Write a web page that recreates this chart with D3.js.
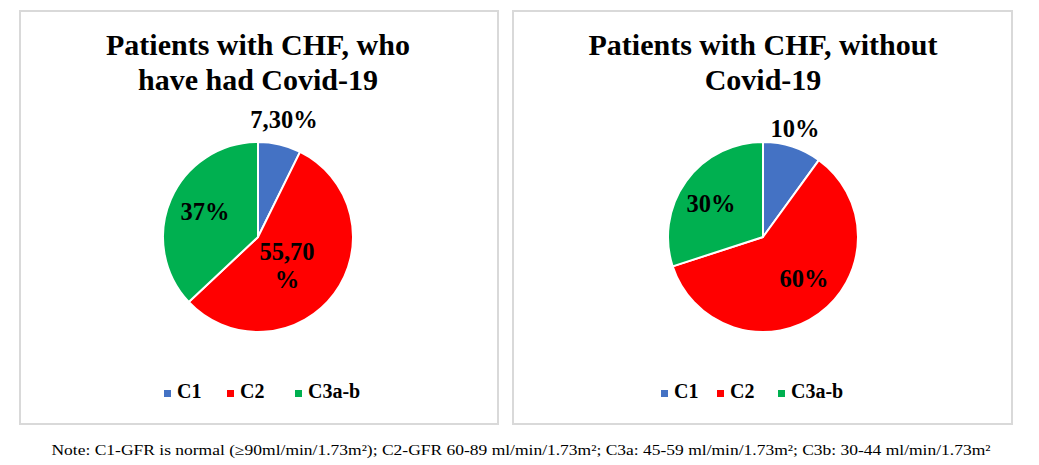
<!DOCTYPE html>
<html><head><meta charset="utf-8">
<script src="https://cdn.jsdelivr.net/npm/d3@7"></script>
<style>body{margin:0;background:#fff}svg{display:block}</style>
</head><body>
<svg id="c" width="1039" height="465"></svg>
<script>
const categories = ["C1","C2","C3a-b"];
const titles = [["Patients with CHF, who","have had Covid-19"],["Patients with CHF, without","Covid-19"]];
const valuesCovid = [7.3, 55.7, 37];
const valuesNoCovid = [10, 60, 30];
const labelsCovid = [["7,30%"],["55,70","%"],["37%"]];
const labelsNoCovid = [["10%"],["60%"],["30%"]];
const colors = ["#4472C4","#FF0000","#00B050"];
const note = "Note: C1-GFR is normal (≥90ml/min/1.73m²); C2-GFR 60-89 ml/min/1.73m²; C3a: 45-59 ml/min/1.73m²; C3b: 30-44 ml/min/1.73m²";

const svg = d3.select("#c");
const font = "'Liberation Serif','Times New Roman',serif";
const color = d3.scaleOrdinal().domain(categories).range(colors);

const panels = [
  {x0:20, x1:498, cx:258, values:valuesCovid, labels:labelsCovid, title:titles[0],
   labelPos:[[284,128],[287,260],[205,220]], legendX:[164,227,295]},
  {x0:513, x1:1012, cx:763, values:valuesNoCovid, labels:labelsNoCovid, title:titles[1],
   labelPos:[[795,137],[804,287],[711,212]], legendX:[661,717,778]}
];
const cy = 237, r = 95;
const pie = d3.pie().sort(null).value(d=>d);
const arc = d3.arc().innerRadius(0).outerRadius(r);

panels.forEach(p=>{
  svg.append("rect").attr("x",p.x0).attr("y",11).attr("width",p.x1-p.x0).attr("height",413)
    .attr("fill","#fff").attr("stroke","#d9d9d9").attr("stroke-width",2);
  p.title.forEach((t,i)=>{
    svg.append("text").attr("x",p.cx).attr("y",55+i*35).attr("text-anchor","middle")
      .attr("font-family",font).attr("font-weight","bold").attr("font-size",30).text(t);
  });
  const g = svg.append("g").attr("transform",`translate(${p.cx},${cy})`);
  g.selectAll("path").data(pie(p.values)).join("path")
    .attr("d",arc).attr("fill",(d,i)=>color(categories[i]))
    .attr("stroke","#fff").attr("stroke-width",2).attr("stroke-linejoin","round");
  p.labels.forEach((lines,i)=>{
    lines.forEach((l,j)=>{
      svg.append("text").attr("x",p.labelPos[i][0]).attr("y",p.labelPos[i][1]+j*28)
        .attr("text-anchor","middle").attr("font-family",font).attr("font-weight","bold")
        .attr("font-size",24.5).attr("fill","#000").text(l);
    });
  });
  categories.forEach((c,i)=>{
    const lx = p.legendX[i];
    svg.append("rect").attr("x",lx).attr("y",390).attr("width",7).attr("height",7).attr("fill",color(c));
    svg.append("text").attr("x",lx+13).attr("y",398).attr("font-family",font).attr("font-weight","bold")
      .attr("font-size",20).attr("fill","#000").text(c);
  });
});

svg.append("text").attr("x",521).attr("y",455).attr("text-anchor","middle")
  .attr("font-family",font).attr("font-size",14.5).attr("textLength",939).attr("lengthAdjust","spacingAndGlyphs")
  .text(note);
</script>
</body></html>
